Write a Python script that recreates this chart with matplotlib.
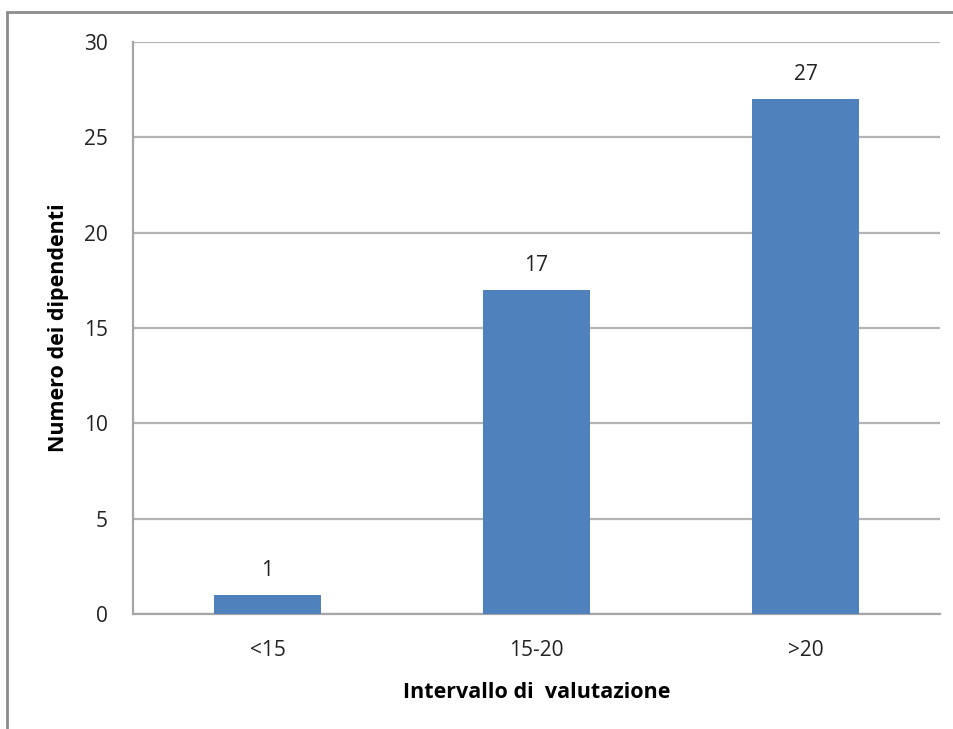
import matplotlib.pyplot as plt
from matplotlib.patches import Rectangle

# Dati del grafico
categorie = ['<15', '15-20', '>20']
valori = [1, 17, 27]
y_ticks = [0, 5, 10, 15, 20, 25, 30]

plt.rcParams['font.family'] = ['Open Sans', 'DejaVu Sans']

fig = plt.figure(figsize=(9.54, 7.29), dpi=100)
ax = fig.add_axes([133 / 954, 1 - 614 / 729, 807 / 954, 572 / 729])

# bordo esterno della figura
fig.patches.append(Rectangle((7 / 954, -0.1), 1.2, 1 - 12 / 729 + 0.1,
                             transform=fig.transFigure, fill=False,
                             edgecolor='#8c8c8c', lw=2))

x = range(len(categorie))
bars = ax.bar(x, valori, width=0.4, color='#4f81bd', zorder=3)
for b, v in zip(bars, valori):
    ax.text(b.get_x() + b.get_width() / 2, v + 0.75, str(v),
            ha='center', va='bottom', fontsize=15, color='#222222')

ax.set_xlim(-0.5, 2.5)
ax.set_ylim(0, 30)
ax.set_xticks(list(x))
ax.set_xticklabels(categorie)
ax.set_yticks(y_ticks)
ax.tick_params(length=0, labelsize=15, colors='#222222')
ax.tick_params(axis='y', pad=18)
ax.tick_params(axis='x', pad=19)
ax.grid(axis='y', color='#b4b4b4', lw=1.6, zorder=0)

for s in ['top', 'right']:
    ax.spines[s].set_visible(False)
for s in ['left', 'bottom']:
    ax.spines[s].set_color('#a6a6a6')
    ax.spines[s].set_linewidth(1.6)

ax.set_xlabel('Intervallo di  valutazione', fontsize=15.5, fontweight='bold', labelpad=15)
ax.set_ylabel('Numero dei dipendenti', fontsize=15.5, fontweight='bold', labelpad=11)

fig.savefig('out.png', dpi=100)
